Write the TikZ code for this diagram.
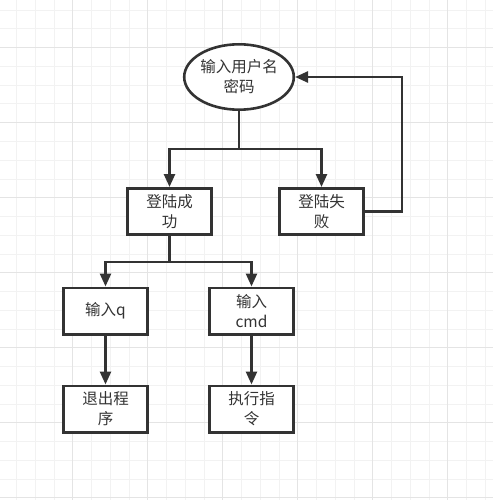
\documentclass[tikz,border=0pt]{standalone}
\usepackage{fontspec}
\setmainfont{Noto Sans CJK SC}
\usetikzlibrary{arrows.meta,positioning,shapes.geometric}
\definecolor{inkgray}{RGB}{51,51,51}
\definecolor{gridminor}{RGB}{242,242,242}
\definecolor{gridmajor}{RGB}{228,228,228}

\begin{document}
\begin{tikzpicture}[x=1pt, y=-1pt, node distance=49pt, >={Triangle[length=13pt,width=11pt]}]
  \tikzstyle{box}=[rectangle, draw=inkgray, line width=2.6pt, fill=white, text=inkgray, minimum width=84.4pt, minimum height=46.4pt, align=center, font=\fontsize{15.5}{20}\selectfont]
  \tikzstyle{oval}=[ellipse, draw=inkgray, line width=2.6pt, fill=white, text=inkgray, minimum width=109.4pt, minimum height=65.4pt, inner sep=0pt, align=center, font=\fontsize{15.5}{20}\selectfont]
  \tikzstyle{link}=[->, draw=inkgray, line width=2.6pt]
  % background and grid
  \useasboundingbox (0,0) rectangle (493,500);
  \fill[white] (0,0) rectangle (493,500);
  \foreach \k in {0,...,25} \draw[gridminor, line width=0.9pt] (16.45+18.75*\k,0) -- (16.45+18.75*\k,500);
  \foreach \k in {0,...,26} \draw[gridminor, line width=0.9pt] (0,10.2+18.75*\k) -- (493,10.2+18.75*\k);
  \foreach \x in {72.7,147.7,222.7,297.7,372.7,447.7} \draw[gridmajor, line width=0.9pt] (\x,0) -- (\x,500);
  \foreach \y in {47.7,122.7,197.7,272.7,347.7,422.7,497.7} \draw[gridmajor, line width=0.9pt] (0,\y) -- (493,\y);
  % nodes
  \node[oval] (login) at (239,77) {输入用户名\\密码};
  \node[box] (ok) at (169.5,211.5) {登陆成\\功};
  \node[box, right=65pt of ok] (fail) {登陆失\\败};
  \node[box] (inq) at (105.5,311) {输入q};
  \node[box, right=59pt of inq] (incmd) {输入\\cmd};
  \node[box, below=of inq] (quit) {退出程\\序};
  \node[box, below=of incmd] (run) {执行指\\令};
  \coordinate (split) at (239,149);
  \coordinate (split2) at (169.5,262);
  \coordinate (back) at (402,77);
  % connectors
  \draw[link, -] (login) -- (split);
  \draw[link] (split) -| (ok);
  \draw[link] (split) -| (fail);
  \draw[link] (fail.east) -| (back) -- (login.east);
  \draw[link, -] (ok) -- (split2);
  \draw[link] (split2) -| (inq);
  \draw[link] (split2) -| (incmd);
  \draw[link] (inq) -- (quit);
  \draw[link] (incmd) -- (run);
\end{tikzpicture}
\end{document}
